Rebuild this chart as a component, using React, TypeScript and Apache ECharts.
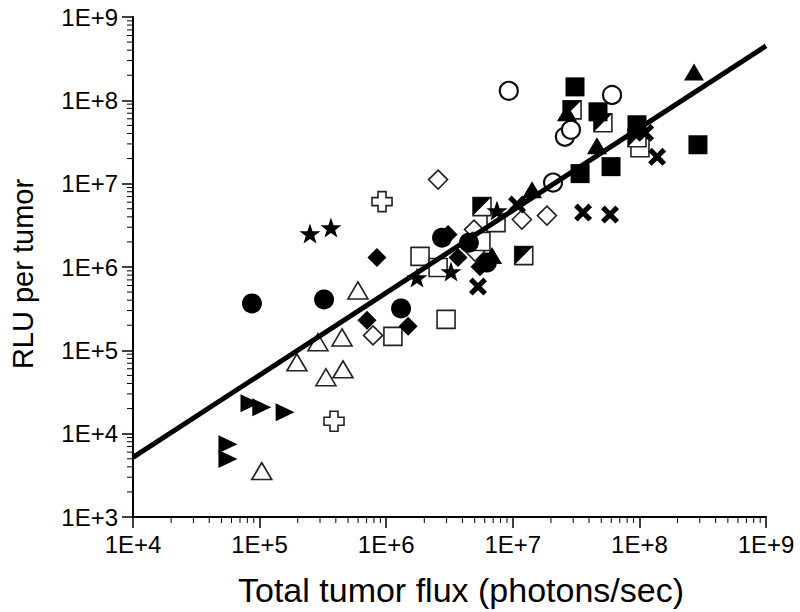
import React, { useEffect, useRef } from "react";
import * as echarts from "echarts";

const FONT = "'Liberation Sans', Arial, Helvetica, sans-serif";

const xTitle = "Total tumor flux (photons/sec)";
const yTitle = "RLU per tumor";
const xRange = [1e4, 1e9];
const yRange = [1e3, 1e9];

const filledCircles = [[8.7e4, 3.66e5], [3.23e5, 4.08e5], [1.31e6, 3.18e5], [2.76e6, 2.25e6], [4.5e6, 1.96e6], [6.25e6, 1.13e6]];
const openCircles = [[9.3e6, 1.3e8], [6.08e7, 1.16e8], [2.58e7, 3.66e7], [2.88e7, 4.43e7], [2.08e7, 1.03e7]];
const filledSquares = [[3.1e7, 1.45e8], [4.71e7, 7.28e7], [9.57e7, 5.09e7], [2.9e8, 2.93e7], [3.4e7, 1.32e7], [5.97e7, 1.6e7]];
const openSquares = [[7.37e6, 3.41e6], [5.6e6, 2.02e6], [1.85e6, 1.34e6], [2.57e6, 9.86e5], [1.13e6, 1.47e5], [2.97e6, 2.35e5], [1.01e8, 2.7e7]];
const halfSquares = [[5.71e6, 5.31e6], [1.22e7, 1.37e6], [2.94e7, 7.69e7], [5.15e7, 5.38e7], [9.57e7, 3.56e7]];
const filledTriangles = [[2.7e8, 2.19e8], [2.68e7, 7.08e7], [4.62e7, 2.85e7], [1.42e7, 8.47e6], [6.86e6, 1.37e6]];
const openTriangles = [[5.98e5, 5.24e5], [2.89e5, 1.25e5], [4.48e5, 1.43e5], [1.97e5, 7.18e4], [3.34e5, 4.75e4], [4.56e5, 5.92e4], [1.04e5, 3.56e3]];
const filledDiamonds = [[8.45e5, 1.3e6], [7.05e5, 2.29e5], [1.49e6, 1.94e5], [3.08e6, 2.45e6], [3.69e6, 1.3e6], [5.51e6, 1.01e6]];
const openDiamonds = [[2.57e6, 1.12e7], [7.87e5, 1.51e5], [4.94e6, 2.81e6], [5.03e6, 1.53e6], [1.18e7, 3.71e6], [1.86e7, 4.14e6]];
const crosses = [[1.08e7, 5.61e6], [5.31e6, 5.83e5], [3.59e7, 4.5e6], [5.86e7, 4.26e6], [1.38e8, 2.1e7], [1.11e8, 4.08e7]];
const stars = [[2.5e5, 2.52e6], [3.66e5, 2.97e6], [1.75e6, 7.48e5], [3.25e6, 8.83e5], [7.5e6, 4.75e6]];
const openPlus = [[9.27e5, 6.08e6], [3.87e5, 1.41e4]];
const rightTriangles = [[8.4e4, 2.32e4], [1.04e5, 2.07e4], [1.59e5, 1.81e4], [5.62e4, 7.48e3], [5.62e4, 4.95e3]];
const fitLine = [[1e4, 5.2e3], [1e9, 4.5e8]];

const STAR = "path://M50,0L61.8,35.1L97.6,34.5L69.1,56.7L79.4,90.5L50,70L20.6,90.5L30.9,56.7L2.4,34.5L38.2,35.1Z";
const XMARK = "path://M2,0L5,3L8,0L10,2L7,5L10,8L8,10L5,7L2,10L0,8L3,5L0,2Z";
const PLUS = "path://M3,0H7V3H10V7H7V10H3V7H0V3H3Z";
const RTRI = "path://M0,0L10,5L0,10Z";
const HALF = "path://M0,0L10,0L0,10Z";

function minorTicks(lo: number, hi: number) {
  const out: number[] = [];
  for (let e = Math.round(Math.log10(lo)); e < Math.round(Math.log10(hi)); e++) {
    for (let k = 2; k <= 9; k++) out.push(k * Math.pow(10, e));
  }
  return out;
}

export default function App() {
  const ref = useRef<HTMLDivElement>(null);
  useEffect(() => {
    if (!ref.current) return;
    const chart = echarts.init(ref.current, null, { renderer: "svg" });
    const filled = { color: "#000", opacity: 1 };
    const open = { color: "#fff", borderColor: "#222", borderWidth: 1.6, opacity: 1 };
    const sc = (name: string, data: number[][], symbol: string, size: any, style: any, z = 3) => ({
      type: "scatter",
      name,
      data,
      symbol,
      symbolSize: size,
      itemStyle: style,
      z,
      silent: true,
    });
    const xm = minorTicks(xRange[0], xRange[1]).map((v) => [v, yRange[0], 0]);
    const ym = minorTicks(yRange[0], yRange[1]).map((v) => [xRange[0], v, 1]);
    const labelFmt = (v: number) => "1E+" + Math.round(Math.log10(v));
    const axisCommon = {
      type: "log",
      logBase: 10,
      axisLine: { lineStyle: { color: "#000", width: 2 } },
      axisTick: { inside: false, length: 11, lineStyle: { color: "#000", width: 1.5 } },
      axisLabel: { formatter: labelFmt, fontSize: 24, fontFamily: FONT, color: "#000", margin: 15 },
      splitLine: { show: false },
    };
    chart.setOption({
      animation: false,
      backgroundColor: "#fff",
      grid: { left: 133, right: 34, top: 17, bottom: 95 },
      xAxis: { ...axisCommon, min: xRange[0], max: xRange[1] },
      yAxis: { ...axisCommon, min: yRange[0], max: yRange[1] },
      graphic: [
        {
          type: "text",
          x: 461,
          y: 590,
          style: { text: xTitle, fontSize: 34, fontFamily: FONT, fill: "#000", align: "center", verticalAlign: "middle" },
        },
        {
          type: "text",
          x: 23,
          y: 274,
          rotation: Math.PI / 2,
          style: { text: yTitle, fontSize: 29, fontFamily: FONT, fill: "#000", align: "center", verticalAlign: "middle" },
        },
      ],
      series: [
        {
          type: "custom",
          data: [...xm, ...ym],
          clip: false,
          silent: true,
          z: 1,
          renderItem: (params: any, api: any) => {
            const p = api.coord([api.value(0), api.value(1)]);
            const horiz = api.value(2) === 1;
            return {
              type: "line",
              shape: horiz
                ? { x1: p[0] - 6, y1: p[1], x2: p[0], y2: p[1] }
                : { x1: p[0], y1: p[1], x2: p[0], y2: p[1] + 6 },
              style: { stroke: "#000", lineWidth: 1 },
            };
          },
        },
        sc("openTriangles", openTriangles, "triangle", [20, 17], open),
        sc("openDiamonds", openDiamonds, "diamond", [19, 19], open),
        sc("openSquares", openSquares, "rect", [18, 18], open),
        sc("halfSquaresOutline", halfSquares, "rect", [18, 18], open),
        sc("halfSquaresFill", halfSquares, HALF, [18, 18], filled, 4),
        sc("openCircles", openCircles, "circle", [18, 18], { color: "#fff", borderColor: "#111", borderWidth: 2.2, opacity: 1 }),
        sc("openPlus", openPlus, PLUS, [20, 20], open),
        sc("filledCircles", filledCircles, "circle", [20, 20], filled),
        sc("filledSquares", filledSquares, "rect", [19, 19], filled),
        sc("filledTriangles", filledTriangles, "triangle", [20, 17], filled),
        sc("filledDiamonds", filledDiamonds, "diamond", [19, 19], filled),
        sc("crosses", crosses, XMARK, [18, 18], filled),
        sc("stars", stars, STAR, [21, 20], filled),
        sc("rightTriangles", rightTriangles, RTRI, [19, 18], filled),
        {
          type: "line",
          data: fitLine,
          showSymbol: false,
          symbol: "none",
          silent: true,
          z: 6,
          lineStyle: { color: "#000", width: 5 },
        },
      ],
    });
    return () => chart.dispose();
  }, []);
  return <div ref={ref} style={{ position: "fixed", left: 0, top: 0, width: 800, height: 612 }} />;
}
